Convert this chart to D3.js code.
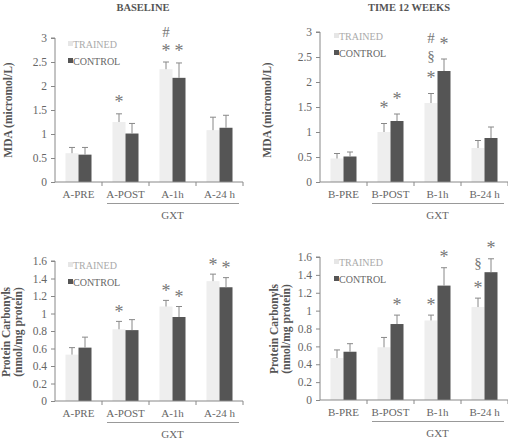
<!DOCTYPE html>
<html><head><meta charset="utf-8">
<script src="https://cdn.jsdelivr.net/npm/d3@7"></script>
<style>body{margin:0;background:#fff}</style>
</head><body>
<svg id="c" width="508" height="443"></svg>
<script>
// ---- data ----
const seriesNames = ["TRAINED", "CONTROL"];
const catsA = ["A-PRE", "A-POST", "A-1h", "A-24 h"];
const catsB = ["B-PRE", "B-POST", "B-1h", "B-24 h"];

const mdaA_trained = [0.60, 1.25, 2.35, 1.08];
const mdaA_trainedErr = [0.12, 0.17, 0.15, 0.27];
const mdaA_control = [0.57, 1.01, 2.17, 1.13];
const mdaA_controlErr = [0.15, 0.21, 0.31, 0.26];

const mdaB_trained = [0.47, 1.00, 1.58, 0.68];
const mdaB_trainedErr = [0.10, 0.17, 0.19, 0.15];
const mdaB_control = [0.51, 1.22, 2.22, 0.88];
const mdaB_controlErr = [0.09, 0.14, 0.24, 0.22];

const pcA_trained = [0.53, 0.82, 1.08, 1.37];
const pcA_trainedErr = [0.08, 0.09, 0.07, 0.08];
const pcA_control = [0.61, 0.81, 0.96, 1.30];
const pcA_controlErr = [0.12, 0.12, 0.12, 0.11];

const pcB_trained = [0.47, 0.59, 0.89, 1.04];
const pcB_trainedErr = [0.09, 0.11, 0.06, 0.10];
const pcB_control = [0.54, 0.85, 1.28, 1.43];
const pcB_controlErr = [0.09, 0.10, 0.20, 0.15];

const mdaTicks = [0, 0.5, 1, 1.5, 2, 2.5, 3];
const pcTicks = [0, 0.2, 0.4, 0.6, 0.8, 1, 1.2, 1.4, 1.6];

// significance marks: [category index, series index, symbols from bottom to top]
const marksMdaA = [[1,0,["*"]],[2,0,["*","#"]],[2,1,["*"]]];
const marksMdaB = [[1,0,["*"]],[1,1,["*"]],[2,0,["*","§","#"]],[2,1,["*"]]];
const marksPcA = [[1,0,["*"]],[2,0,["*"]],[2,1,["*"]],[3,0,["*"]],[3,1,["*"]]];
const marksPcB = [[1,1,["*"]],[2,0,["*"]],[2,1,["*"]],[3,0,["*","§"]],[3,1,["*"]]];

// ---- drawing ----
const svg = d3.select("#c");
const FONT = "Liberation Serif, Times New Roman, serif";
const colors = ["#eeeeee", "#555555"];
const textCol = "#666";
const axisCol = "#888";

function panel(o) {
  const g = svg.append("g");
  const x = d3.scaleBand().domain(o.cats).range([o.x0, o.x0 + 47 * 4]);
  const y = d3.scaleLinear().domain([0, o.ymax]).range([o.yBottom, o.yTop]);
  const bw = 13;
  const vals = [o.tr, o.co], errs = [o.trE, o.coE];

  // bars
  [0,1].forEach(s => {
    g.selectAll(null).data(o.cats).enter().append("rect")
      .attr("x", d => x(d) + x.bandwidth()/2 + (s === 0 ? -bw : 0))
      .attr("y", (d,i) => y(vals[s][i]))
      .attr("width", bw)
      .attr("height", (d,i) => y(0) - y(vals[s][i]))
      .attr("fill", colors[s]);
    // error bars (upper only)
    g.selectAll(null).data(o.cats).enter().append("path")
      .attr("d", (d,i) => {
        const cx = x(d) + x.bandwidth()/2 + (s === 0 ? -bw/2 : bw/2);
        const yt = y(vals[s][i] + errs[s][i]), yb = y(vals[s][i]);
        return `M${cx},${yb}V${yt}M${cx-3},${yt}H${cx+3}`;
      })
      .attr("stroke", "#888").attr("stroke-width", 1).attr("fill", "none");
  });

  // y axis
  const ya = d3.axisLeft(y).tickValues(o.ticks).tickSize(4).tickPadding(4)
    .tickFormat(d => String(d));
  const yg = g.append("g").attr("transform", `translate(${o.x0},0)`).call(ya);
  yg.select(".domain").attr("stroke", axisCol).attr("d", `M-4,${y(o.ymax)}H0V${y(0)}`);
  yg.selectAll(".tick line").attr("stroke", axisCol);
  yg.selectAll("text").attr("fill", textCol).style("font-family", FONT).style("font-size", "11.5px");

  // x axis
  const xg = g.append("g").attr("transform", `translate(0,${y(0)})`);
  xg.append("line").attr("x1", o.x0).attr("x2", o.x0 + 188).attr("stroke", axisCol);
  xg.selectAll(null).data(o.cats).enter().append("line")
    .attr("x1", d => x(d) + x.bandwidth()).attr("x2", d => x(d) + x.bandwidth())
    .attr("y1", 0).attr("y2", 4).attr("stroke", axisCol);
  xg.selectAll(null).data(o.cats).enter().append("text")
    .attr("x", d => x(d) + x.bandwidth()/2).attr("y", 16)
    .attr("text-anchor", "middle").attr("fill", textCol)
    .style("font-family", FONT).style("font-size", "11px").text(d => d);

  // GXT bracket
  g.append("line").attr("x1", x(o.cats[1]) + 5).attr("x2", x(o.cats[3]) + x.bandwidth() - 4)
    .attr("y1", y(0) + 21.5).attr("y2", y(0) + 21.5).attr("stroke", "#999");
  g.append("text").attr("x", (x(o.cats[1]) + x(o.cats[3]) + x.bandwidth())/2)
    .attr("y", y(0) + 37).attr("text-anchor", "middle").attr("fill", textCol)
    .style("font-family", FONT).style("font-size", "11px").text("GXT");

  // significance marks (one text per stack, tspans per symbol)
  o.marks.forEach(([ci, s, syms]) => {
    const cx = x(o.cats[ci]) + x.bandwidth()/2 + (s === 0 ? -bw/2 : bw/2);
    const yt = y(vals[s][ci] + errs[s][ci]);
    const c0 = yt - o.markOff;
    const t = g.append("text").attr("text-anchor", "middle").attr("fill", "#777")
      .style("font-family", FONT);
    syms.forEach((sym, k) => {
      const c = c0 - k * o.markGap;
      const isStar = sym === "*";
      const size = isStar ? 18 : 15;
      const base = isStar ? c + 8.5 : (sym === "#" ? c + 5 : c + 4);
      t.append("tspan").attr("x", cx).attr("y", base)
        .style("font-size", size + "px").text(sym);
    });
  });

  // legend
  seriesNames.forEach((n, i) => {
    const ly = o.legY + i * o.legGap;
    g.append("rect").attr("x", o.legX).attr("y", ly - 3).attr("width", 5).attr("height", 5).attr("fill", i === 0 ? "#e6e6e6" : "#555");
    g.append("text").attr("x", o.legX + 5).attr("y", ly + 3.5).attr("fill", i === 0 ? "#aaa" : "#666")
      .style("font-family", FONT).style("font-size", "10px").text(n);
  });

  // y label
  const lines = o.ylabel;
  lines.forEach((t, i) => {
    g.append("text").attr("transform", `translate(${o.labX + i * 12},${o.labY}) rotate(-90)`)
      .attr("text-anchor", "middle").attr("fill", "#555")
      .style("font-family", FONT).style("font-size", "11.5px").style("font-weight", "bold").text(t);
  });

  if (o.title) {
    g.append("text").attr("x", o.titleX).attr("y", 11).attr("text-anchor", "middle").attr("fill", "#555")
      .style("font-family", FONT).style("font-size", "10.5px").style("font-weight", "bold").text(o.title);
  }
}

panel({cats: catsA, tr: mdaA_trained, trE: mdaA_trainedErr, co: mdaA_control, coE: mdaA_controlErr,
  x0: 55, yTop: 38, yBottom: 182, ymax: 3, ticks: mdaTicks, marks: marksMdaA, markOff: 14, markGap: 16.5,
  legX: 68, legY: 44, legGap: 17, ylabel: ["MDA (micromol/L)"], labX: 12, labY: 110,
  title: "BASELINE", titleX: 143});
panel({cats: catsB, tr: mdaB_trained, trE: mdaB_trainedErr, co: mdaB_control, coE: mdaB_controlErr,
  x0: 320, yTop: 32, yBottom: 182, ymax: 3, ticks: mdaTicks, marks: marksMdaB, markOff: 18, markGap: 19,
  legX: 334, legY: 36, legGap: 17, ylabel: ["MDA (micromol/L)"], labX: 271, labY: 110,
  title: "TIME 12 WEEKS", titleX: 409});
panel({cats: catsA, tr: pcA_trained, trE: pcA_trainedErr, co: pcA_control, coE: pcA_controlErr,
  x0: 55, yTop: 261, yBottom: 401, ymax: 1.6, ticks: pcTicks, marks: marksPcA, markOff: 12, markGap: 17,
  legX: 68, legY: 265, legGap: 17, ylabel: ["Protein Carbonyls", "(nmol/mg protein)"], labX: 10, labY: 332});
panel({cats: catsB, tr: pcB_trained, trE: pcB_trainedErr, co: pcB_control, coE: pcB_controlErr,
  x0: 320, yTop: 257, yBottom: 400, ymax: 1.6, ticks: pcTicks, marks: marksPcB, markOff: 13, markGap: 21,
  legX: 334, legY: 262, legGap: 17, ylabel: ["Protein Carbonyls", "(nmol/mg protein)"], labX: 278, labY: 329});
</script>
</body></html>
